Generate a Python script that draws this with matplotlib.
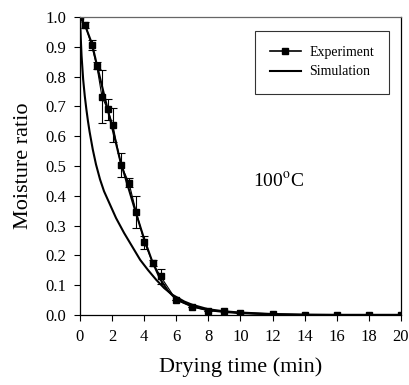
import matplotlib
matplotlib.use('Agg')
import matplotlib.pyplot as plt
from matplotlib.lines import Line2D
from matplotlib.ticker import FormatStrFormatter

plt.rcParams['font.family'] = 'Liberation Serif'
plt.rcParams['mathtext.fontset'] = 'stix'

t_exp = [0, 0.33, 0.72, 1.05, 1.37, 1.72, 2.05, 2.55, 3.05, 3.5, 4.02, 4.55, 5.03, 6, 7, 8, 9, 10, 12, 14, 16, 18, 20]
mr_exp = [1.0, 0.973, 0.906, 0.836, 0.733, 0.69, 0.637, 0.504, 0.444, 0.346, 0.244, 0.173, 0.129,
          0.05, 0.028, 0.014, 0.012, 0.006, 0.002, 0.0, 0.0, 0.0, 0.0]
err_exp = [0.0, 0.01, 0.018, 0.012, 0.088, 0.035, 0.058, 0.04, 0.015, 0.053, 0.022, 0.01, 0.026,
           0.0, 0.0, 0.0, 0.0, 0.0, 0.0, 0.0, 0.0, 0.0, 0.0]

# simulazione 1 (segue i dati)
t_sim1 = [0, 0.33, 0.75, 1.05, 1.5, 2, 2.5, 3, 3.5, 4, 4.5, 5, 5.5, 6, 7, 8, 9, 10, 12, 14, 16, 18, 20]
mr_sim1 = [1.0, 0.97, 0.91, 0.84, 0.74, 0.63, 0.52, 0.43, 0.34, 0.255, 0.18, 0.12, 0.08, 0.052,
           0.028, 0.016, 0.01, 0.006, 0.002, 0.0, 0.0, 0.0, 0.0]

# simulazione 2 (curva esponenziale)
t_sim2 = [0, 0.05, 0.1, 0.2, 0.3, 0.4, 0.5, 0.6, 0.8, 1.0, 1.25, 1.5, 1.75, 2.25, 2.75, 3.25, 3.75,
          4.25, 4.75, 5.25, 5.75, 6.5, 7, 8, 9, 10, 12, 14, 16, 18, 20]
mr_sim2 = [1.0, 0.93, 0.87, 0.79, 0.735, 0.69, 0.65, 0.615, 0.555, 0.505, 0.455, 0.415, 0.385, 0.325,
           0.275, 0.23, 0.185, 0.15, 0.118, 0.09, 0.068, 0.045, 0.034, 0.019, 0.012, 0.008, 0.003,
           0.001, 0.0, 0.0, 0.0]

fig = plt.figure(figsize=(4.1, 3.85), dpi=100)
ax = fig.add_axes([0.195, 0.182, 0.783, 0.774])

# curve di simulazione
ax.plot(t_sim1, mr_sim1, color='black', linewidth=1.5)
ax.plot(t_sim2, mr_sim2, color='black', linewidth=1.5)

# esperimento con barre di errore
ax.errorbar(t_exp, mr_exp, yerr=err_exp, color='black', linewidth=0.8, marker='s', markersize=5,
            capsize=3, elinewidth=0.8, capthick=0.8)

ax.set_xlim(0, 20)
ax.set_ylim(0, 1.0)
ax.set_xticks(range(0, 21, 2))
ax.set_yticks([i / 10 for i in range(11)])
ax.yaxis.set_major_formatter(FormatStrFormatter('%.1f'))
ax.tick_params(direction='out', length=4, width=0.8, labelsize=12, pad=6)

ax.spines['top'].set_color('#666666')
for s in ax.spines.values():
    s.set_linewidth(0.9)

ax.set_xlabel('Drying time (min)', fontsize=16, labelpad=9)
ax.set_ylabel('Moisture ratio', fontsize=16, labelpad=9)

ax.text(10.8, 0.45, r'100$^{\mathrm{o}}$C', fontsize=14, ha='left', va='center')

# legenda
h_exp = Line2D([], [], color='black', linewidth=1.2, marker='s', markersize=5)
h_sim = Line2D([], [], color='black', linewidth=1.5)
leg = ax.legend([h_exp, h_sim], ['Experiment', 'Simulation'],
                loc='upper right', bbox_to_anchor=(0.963, 0.953), fontsize=10,
                frameon=True, fancybox=False, edgecolor='black', borderpad=1.1,
                handlelength=2.2, handletextpad=0.6, labelspacing=0.45, borderaxespad=0)
leg.get_frame().set_linewidth(0.8)

plt.savefig('out.png', dpi=100)
